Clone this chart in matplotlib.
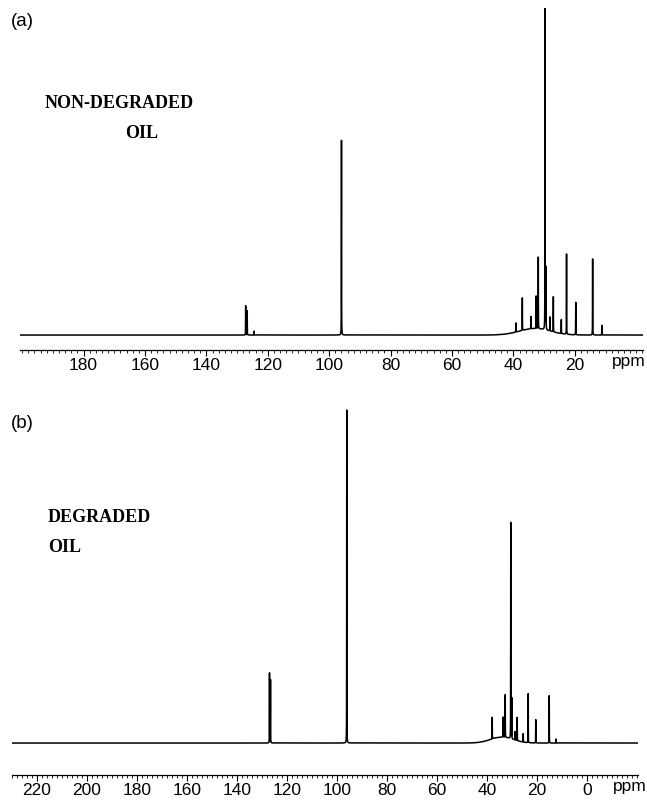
import numpy as np
import matplotlib.pyplot as plt
from matplotlib.ticker import MultipleLocator, FuncFormatter
from matplotlib.transforms import blended_transform_factory

# 13C NMR lines (ppm) and relative intensities, tallest line = 100
a_shift = [127.2, 126.7, 124.5, 96.0, 39.2, 37.1, 34.3, 32.6, 31.9, 29.7, 29.4,
           28.1, 27.0, 24.4, 22.7, 19.7, 14.2, 11.2]
a_height = [9.0, 7.5, 1.2, 59.9, 2.8, 10.0, 3.8, 10.0, 22.0, 100.0, 19.0,
            4.3, 10.8, 4.3, 24.7, 10.0, 23.4, 3.0]

b_shift = [127.0, 126.6, 96.1, 37.9, 33.5, 32.7, 30.5, 30.1, 28.8, 27.9, 25.5,
           23.5, 20.5, 15.1, 12.4]
b_height = [21.0, 19.0, 100.0, 6.5, 6.0, 12.8, 64.9, 12.2, 2.5, 7.0, 2.5,
            14.7, 7.0, 14.2, 1.2]

# broad unresolved hump under the aliphatic region: centre, width, height
a_hump = (33.0, 5.0, 2.0)
b_hump = (34.0, 4.5, 1.8)

a_range = (200.7, -2.2)
b_range = (230.0, -20.4)
a_labels = [180, 160, 140, 120, 100, 80, 60, 40, 20]
b_labels = [220, 200, 180, 160, 140, 120, 100, 80, 60, 40, 20, 0]

LW = 0.025  # half width of each line, ppm


def spectrum(shift, height, hump, lo, hi):
    x = np.arange(lo, hi, 0.002)
    y = np.zeros_like(x)
    for s, h in zip(shift, height):
        y += h * LW**2 / ((x - s)**2 + LW**2)
    c, w, h = hump
    y += h * np.exp(-0.5 * ((x - c) / w)**2)
    return x, y


W, H = 647, 800
fig = plt.figure(figsize=(W / 100, H / 100), dpi=100)


def panel(rect, xr, shift, height, hump, labels, ylim, ppm_x):
    ax = fig.add_axes(rect)
    x, y = spectrum(shift, height, hump, xr[1], xr[0])
    ax.plot(x, y, color='black', lw=1.1)
    ax.set_xlim(xr)
    ax.set_ylim(ylim)
    for s in ['top', 'left', 'right']:
        ax.spines[s].set_visible(False)
    ax.spines['bottom'].set_linewidth(0.9)
    ax.set_yticks([])
    ax.set_xticks(labels)
    ax.xaxis.set_major_formatter(FuncFormatter(lambda v, p: '%d' % v))
    ax.xaxis.set_minor_locator(MultipleLocator(2))
    ax.tick_params(axis='x', which='major', length=4, width=0.8, pad=2,
                   labelsize=12.5)
    ax.tick_params(axis='x', which='minor', length=2.5, width=0.6)
    for t in ax.get_xticklabels():
        t.set_fontfamily('Liberation Sans')
    tr = blended_transform_factory(ax.transData, ax.transAxes)
    ax.text(ppm_x, -0.012, 'ppm', transform=tr, ha='center', va='top',
            fontsize=12.5, family='Liberation Sans')
    return ax


# panel (a): axis line at 350 px, top at 8 px
panel([20 / W, 1 - 350 / H, 623 / W, 342 / H], a_range, a_shift, a_height,
      a_hump, a_labels, (-4.6, 100.6), 2.4)
# panel (b): axis line at 775 px, top at 408 px
panel([12 / W, 1 - 775 / H, 626 / W, 367 / H], b_range, b_shift, b_height,
      b_hump, b_labels, (-9.6, 100.6), -17.0)


def label(x, y, s, **kw):
    fig.text(x / W, 1 - y / H, s, va='center', **kw)


label(11, 22, '(a)', fontsize=13.5, family='Liberation Sans')
label(11, 424, '(b)', fontsize=13.5, family='Liberation Sans')
serif = dict(fontsize=13, family='Liberation Serif', weight='bold')
label(45, 103, 'NON-DEGRADED', **serif)
label(125, 134, 'OIL', **serif)
label(48, 517, 'DEGRADED', **serif)
label(48, 548, 'OIL', **serif)

fig.savefig('out.png', dpi=100)
